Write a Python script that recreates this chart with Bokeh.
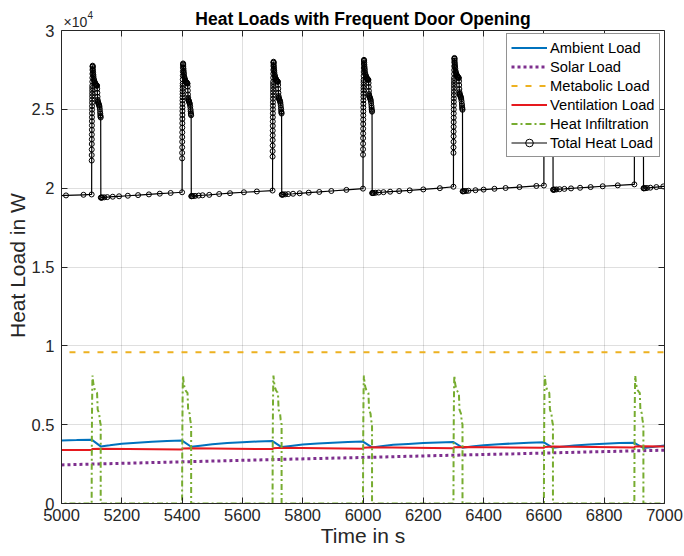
import numpy as np
from bokeh.plotting import figure
from bokeh.models import (Range1d, FixedTicker, LinearAxis, Legend, LegendItem, Label,
                          BoxAnnotation, Title)
from bokeh.embed import file_html
from bokeh.resources import INLINE

# ---------------- data ----------------
# door openings (s); each opening lasts 30 s
door_open = [5100, 5400, 5700, 6000, 6300, 6600, 6900]

# heat infiltration during one opening: seconds after opening -> W
infil_dt = [0, 0.3, 0.6, 1.0, 1.5, 2.0, 2.5, 3.0, 4, 5, 7, 9, 11, 13, 15, 17, 18,
            19, 20, 22, 24, 25, 26, 27, 28, 29, 30, 30]
infil_w = [0, 2200, 3700, 5100, 6300, 7200, 7800, 8120, 7900, 7700, 7450, 7300, 7200,
           7130, 7080, 7040, 7000, 6500, 5950, 5850, 5750, 5700, 5500, 5300, 5200,
           5070, 5050, 0]

# solver samples of the total load while the door is open:
# seconds after opening -> rise above the closed-door level (W)
spike_dt = [0.1, 0.2, 0.3, 0.4, 0.5, 0.6, 0.7, 0.8, 0.9, 1.0, 1.1, 1.2, 1.3, 1.4, 1.5,
            1.6, 1.7, 1.8, 1.9, 2.0, 2.2, 2.4, 2.6, 2.8, 3.0, 3.3, 3.6, 4.0, 4.5, 5.0,
            5.5, 6.0, 7, 8, 9, 10, 11, 12, 13, 14, 15, 16, 17, 18, 18.5, 19, 19.5, 20,
            20.5, 21, 22, 23, 24, 25, 26, 27, 28, 28.5, 29, 29.5, 30]
spike_rise = [2150, 2500, 2850, 3200, 3500, 3800, 4100, 4380, 4650, 4900, 5150, 5380,
              5600, 5820, 6020, 6220, 6400, 6580, 6750, 6900, 7150, 7400, 7650, 7900,
              8100, 8170, 8120, 8000, 7850, 7720, 7600, 7500, 7350, 7250, 7180, 7120,
              7070, 7030, 7000, 6970, 6950, 6930, 6910, 6890, 6700, 6450, 6200, 6000,
              5900, 5850, 5800, 5760, 5700, 5640, 5560, 5420, 5250, 5130, 5020, 4940,
              4880]
pre_open_total = [19600, 19740, 19850, 19970, 20090, 20170, 20240]

# solver samples of the total load while the door is closed
base_t = [4985, 5015, 5073, 5100,
          5130.5, 5131.5, 5133, 5136, 5142, 5152, 5170, 5191, 5220, 5254, 5290, 5326, 5362, 5400,
          5430.5, 5431.5, 5433, 5436, 5443, 5455, 5468, 5490, 5523, 5559, 5605, 5648, 5700,
          5730.5, 5731.5, 5733, 5736, 5742, 5752, 5768, 5790, 5820, 5855, 5895, 5945, 6000,
          6030.5, 6031.5, 6033, 6036, 6042, 6052, 6068, 6090, 6120, 6155, 6200, 6255, 6300,
          6330.5, 6331.5, 6333, 6336, 6342, 6350, 6373, 6400, 6436, 6473, 6519, 6575, 6600,
          6630.5, 6631.5, 6633, 6636, 6642, 6652, 6668, 6690, 6720, 6755, 6795, 6845, 6900,
          6930.5, 6931.5, 6933, 6936, 6942, 6953, 6973, 6996, 7020]
base_w = [19520, 19540, 19580, 19600,
          19400, 19402, 19405, 19410, 19418, 19432, 19458, 19485, 19520, 19560, 19605, 19650, 19695, 19740,
          19490, 19492, 19495, 19500, 19510, 19530, 19550, 19575, 19630, 19680, 19740, 19790, 19850,
          19590, 19592, 19595, 19600, 19610, 19625, 19645, 19675, 19715, 19760, 19820, 19890, 19970,
          19690, 19692, 19695, 19700, 19710, 19725, 19745, 19775, 19815, 19860, 19920, 20000, 20090,
          19800, 19802, 19805, 19810, 19820, 19835, 19870, 19910, 19960, 20010, 20070, 20140, 20170,
          19900, 19902, 19905, 19910, 19920, 19935, 19955, 19985, 20025, 20070, 20120, 20180, 20240,
          19990, 19992, 19995, 20000, 20010, 20030, 20070, 20110, 20150]

ambient_t = [4980, 5000, 5050, 5100,
             5130, 5160, 5200, 5250, 5300, 5350, 5400,
             5430, 5460, 5500, 5550, 5600, 5650, 5700,
             5730, 5760, 5800, 5850, 5900, 5950, 6000,
             6030, 6060, 6100, 6150, 6200, 6250, 6300,
             6330, 6360, 6400, 6450, 6500, 6550, 6600,
             6630, 6660, 6700, 6750, 6800, 6850, 6900,
             6930, 6960, 7000, 7020]
ambient_w = [3990, 4000, 4020, 4050,
             3620, 3690, 3790, 3860, 3920, 3960, 3990,
             3600, 3670, 3760, 3830, 3890, 3930, 3960,
             3580, 3650, 3740, 3800, 3860, 3900, 3930,
             3560, 3630, 3720, 3780, 3830, 3870, 3900,
             3540, 3610, 3700, 3760, 3810, 3850, 3880,
             3530, 3600, 3680, 3740, 3790, 3830, 3850,
             3520, 3590, 3680, 3700]

solar_t = [4980, 5250, 5500, 5750, 6000, 6250, 6500, 6750, 7020]
solar_w = [2440, 2570, 2690, 2810, 2920, 3040, 3150, 3270, 3390]

metabolic_t = [4980, 7020]
metabolic_w = [9600, 9600]

vent_t = [4980, 5100, 5102, 5130, 5400, 5402, 5430, 5700, 5702, 5730, 6000, 6002, 6030,
          6300, 6302, 6330, 6600, 6602, 6630, 6900, 6902, 6930, 7020]
vent_w = [3400, 3400, 3460, 3480, 3430, 3490, 3510, 3450, 3510, 3530, 3480, 3540, 3560,
          3500, 3560, 3580, 3530, 3590, 3610, 3550, 3610, 3630, 3610]

x_ticks = [5000, 5200, 5400, 5600, 5800, 6000, 6200, 6400, 6600, 6800, 7000]
y_ticks = [0, 5000, 10000, 15000, 20000, 25000, 30000]
y_tick_labels = ["0", "0.5", "1", "1.5", "2", "2.5", "3"]
Y_MAX = 30000

# ---------------- assemble series ----------------
pts = list(zip(base_t, base_w))
for t0, w0 in zip(door_open, pre_open_total):
    for dt, r in zip(spike_dt, spike_rise):
        pts.append((t0 + dt, w0 + r))
pts.sort()
total_t = [a for a, _ in pts]
total_w = [b for _, b in pts]

inf_t, inf_w = [4980], [0]
for t0 in door_open:
    for dt, w in zip(infil_dt, infil_w):
        inf_t.append(t0 + dt)
        inf_w.append(w)
inf_t.append(7020)
inf_w.append(0)

# ---------------- figure ----------------
FONT = "Liberation Sans"
AX = "#262626"
W, H = 684, 556
BOTTOM = 53        # room for the x axis under the box
BOX_TOP = 30       # distance of the top edge of the box from the page top

# the plotting frame reaches the top of the page; the axis box ends at Y_MAX and
# the band above it holds the title
frame_h = H - BOTTOM
y_end = Y_MAX * frame_h / (frame_h - BOX_TOP)
px = y_end / frame_h   # one screen pixel in data units (vertical)

p = figure(width=W, height=H, output_backend="svg", toolbar_location=None,
           x_range=Range1d(5000, 7000), y_range=Range1d(0, y_end),
           min_border_left=61, min_border_right=20, min_border_top=0,
           min_border_bottom=BOTTOM)
p.background_fill_color = "white"
p.border_fill_color = "white"
p.outline_line_color = None
p.title.visible = False

for ax, ticks in ((p.xaxis[0], x_ticks), (p.yaxis[0], y_ticks)):
    ax.ticker = FixedTicker(ticks=ticks)
    ax.major_tick_in = 6
    ax.major_tick_out = 0
    ax.minor_tick_line_color = None
    ax.axis_line_color = AX
    ax.major_tick_line_color = AX
    ax.major_label_text_font = FONT
    ax.major_label_text_font_size = "16.5px"
    ax.major_label_text_color = AX
    ax.axis_label_text_font = FONT
    ax.axis_label_text_font_size = "21px"
    ax.axis_label_text_font_style = "normal"
    ax.axis_label_text_color = AX

p.xaxis.axis_label = "Time in s"
p.xaxis.major_label_standoff = 5
p.xaxis.axis_label_standoff = 0
p.yaxis.bounds = (0, Y_MAX)
p.yaxis.major_label_standoff = 7
p.yaxis.major_label_overrides = dict(zip(y_ticks, y_tick_labels))

# y-axis label, centred on the box rather than on the taller frame
box_mid_from_bottom = (frame_h - BOX_TOP) / 2
p.add_layout(Title(text="Heat Load in W", align="left", offset=box_mid_from_bottom - 71,
                   text_font=FONT, text_font_size="21px", text_font_style="normal",
                   text_color=AX, standoff=0), "left")

p.xgrid.ticker = FixedTicker(ticks=x_ticks)
p.ygrid.ticker = FixedTicker(ticks=y_ticks)
for g in (p.xgrid[0], p.ygrid[0]):
    g.grid_line_color = AX
    g.grid_line_alpha = 0.15
    g.grid_line_width = 1

# grid lines stay inside the box
if "cross_bounds" in p.xgrid[0].properties():
    p.xgrid[0].cross_bounds = (0, Y_MAX)
else:
    p.add_layout(BoxAnnotation(bottom=Y_MAX + px, fill_color="white", fill_alpha=1,
                               line_color=None))

# top and right edges of the box, with inward ticks and no labels
top_axis = LinearAxis(ticker=FixedTicker(ticks=x_ticks), fixed_location=Y_MAX,
                      major_tick_in=6, major_tick_out=0, minor_tick_line_color=None,
                      axis_line_color=AX, major_tick_line_color=AX,
                      major_label_text_color=None, major_label_text_font_size="0px",
                      major_label_standoff=0)
p.add_layout(top_axis, "above")
right_axis = LinearAxis(ticker=FixedTicker(ticks=y_ticks), bounds=(0, Y_MAX),
                        major_tick_in=6, major_tick_out=0, minor_tick_line_color=None,
                        axis_line_color=AX, major_tick_line_color=AX,
                        major_label_text_color=None, major_label_text_font_size="0px",
                        major_label_standoff=0)
p.add_layout(right_axis, "right")

r_amb = p.line(ambient_t, ambient_w, line_color="#0072BD", line_width=2)
r_sol = p.line(solar_t, solar_w, line_color="#7E2F8E", line_width=3, line_dash="3 3")
r_met = p.line(metabolic_t, metabolic_w, line_color="#EDB120", line_width=2, line_dash="6 8")
r_ven = p.line(vent_t, vent_w, line_color="#E6191E", line_width=2)
r_inf = p.line(inf_t, inf_w, line_color="#77AC30", line_width=2, line_dash="6 3 2 3")
r_tot = p.line(total_t, total_w, line_color="black", line_width=1.2)
r_tot_m = p.scatter(total_t, total_w, marker="circle", size=5, fill_color=None,
                    line_color="black", line_width=1)

legend = Legend(items=[
    LegendItem(label="Ambient Load", renderers=[r_amb]),
    LegendItem(label="Solar Load", renderers=[r_sol]),
    LegendItem(label="Metabolic Load", renderers=[r_met]),
    LegendItem(label="Ventilation Load", renderers=[r_ven]),
    LegendItem(label="Heat Infiltration", renderers=[r_inf]),
    LegendItem(label="Total Heat Load", renderers=[r_tot, r_tot_m]),
], location=(445, 346))
legend.padding = 4
legend.spacing = 0
legend.glyph_width = 36
legend.glyph_height = 19
legend.label_height = 19
legend.label_standoff = 3
legend.label_text_font = FONT
legend.label_text_font_size = "14.7px"
legend.label_text_color = "black"
legend.border_line_color = AX
legend.border_line_width = 1
legend.background_fill_color = "white"
legend.background_fill_alpha = 1
p.add_layout(legend, "center")

# title and the exponent marker of the y axis, in the band above the box
p.add_layout(Label(x=6000, y=Y_MAX, y_offset=12, text="Heat Loads with Frequent Door Opening",
                   text_font=FONT, text_font_size="17.5px", text_font_style="bold",
                   text_color="black", text_align="center", text_baseline="alphabetic"))
p.add_layout(Label(x=5000, y=Y_MAX, x_offset=2, y_offset=9, text="×10",
                   text_font=FONT, text_font_size="14px", text_color=AX,
                   text_baseline="alphabetic", text_align="left"))
p.add_layout(Label(x=5000, y=Y_MAX, x_offset=26, y_offset=16, text="4",
                   text_font=FONT, text_font_size="10px", text_color=AX,
                   text_baseline="alphabetic", text_align="left"))

open("out.html", "w").write(file_html(p, INLINE))
